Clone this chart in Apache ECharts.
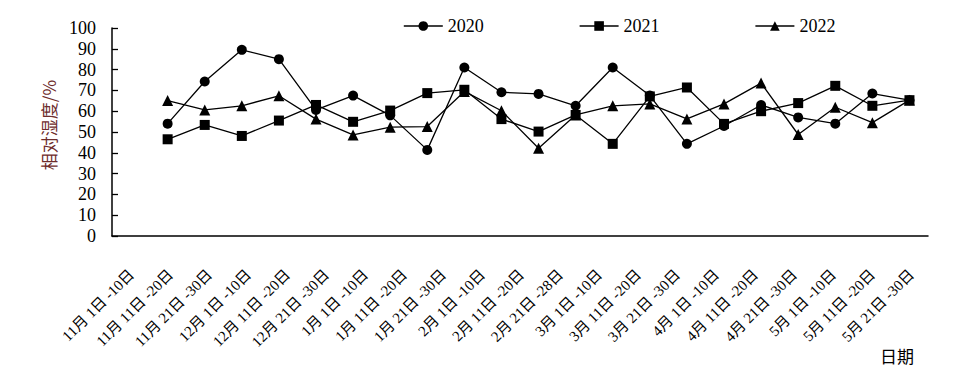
<!DOCTYPE html>
<html>
<head>
<meta charset="utf-8">
<style>
  html, body { margin: 0; padding: 0; background: #fff; }
  #chart { width: 970px; height: 385px; }
</style>
<script src="https://cdn.jsdelivr.net/npm/echarts@6/dist/echarts.min.js"></script>
</head>
<body>
<div id="chart"></div>
<script>
// ---- data ----
const categories = [
  '11月 1日 -10日', '11月 11日 -20日', '11月 21日 -30日',
  '12月 1日 -10日', '12月 11日 -20日', '12月 21日 -30日',
  '1月 1日 -10日', '1月 11日 -20日', '1月 21日 -30日',
  '2月 1日 -10日', '2月 11日 -20日', '2月 21日 -28日',
  '3月 1日 -10日', '3月 11日 -20日', '3月 21日 -30日',
  '4月 1日 -10日', '4月 11日 -20日', '4月 21日 -30日',
  '5月 1日 -10日', '5月 11日 -20日', '5月 21日 -30日'
];
const values2020 = [54, 74.3, 89.5, 85, 60.6, 67.5, 58, 41.4, 81, 69.1, 68.3, 62.6, 81, 67.5, 44.3, 52.9, 63, 57, 54, 68.5, 65.3];
const values2021 = [46.5, 53.4, 48.1, 55.5, 63, 54.9, 60.3, 68.7, 70.3, 56.2, 50.2, 58.2, 44.3, 67.1, 71.4, 53.9, 60, 63.9, 72.2, 62.6, 65.3];
const values2022 = [65.1, 60.6, 62.6, 67.4, 56.2, 48.6, 52.3, 52.6, 69.5, 60.2, 42.2, 58.2, 62.6, 63.5, 56.3, 63.5, 73.5, 48.8, 61.9, 54.5, 65.3];
const seriesNames = ['2020', '2021', '2022'];
const yTicks = { min: 0, max: 100, interval: 10 };

// plot slots: one empty leading slot, then one slot per period
const slots = [''].concat(categories);
const pad = arr => [null].concat(arr);

const SERIF = '"Liberation Serif", "Times New Roman", "Noto Sans CJK SC", serif';
const chart = echarts.init(document.getElementById('chart'), null, { renderer: 'svg' });

const mk = (name, data, symbol, size) => ({
  name, type: 'line', data: pad(data), xAxisIndex: 0, yAxisIndex: 0,
  symbol, symbolSize: size, showSymbol: true, connectNulls: false,
  lineStyle: { color: '#000', width: 1.3 },
  itemStyle: { color: '#000', borderWidth: 0 },
  animation: false
});

chart.setOption({
  animation: false,
  backgroundColor: '#fff',
  legend: {
    data: seriesNames,
    left: 398, top: 12,
    itemWidth: 39, itemHeight: 12, itemGap: 95,
    lineStyle: { width: 1.6 },
    textStyle: { fontFamily: SERIF, fontSize: 18, color: '#000' }
  },
  grid: [
    { left: 112, right: 42, top: 28, bottom: 149 },
    { left: 112, width: 819, top: 28, bottom: 149 }
  ],
  xAxis: [
    {
      type: 'category', gridIndex: 0, data: slots, boundaryGap: true,
      axisLine: { lineStyle: { color: '#000', width: 1.5 } },
      axisTick: { inside: true, length: 6, lineStyle: { color: '#000', width: 1.3 } },
      axisLabel: { show: false },
      splitLine: { show: false }
    },
    {
      type: 'category', gridIndex: 1, data: categories, boundaryGap: true,
      axisLine: { show: false }, axisTick: { show: false },
      axisLabel: {
        interval: 0, rotate: 45, margin: 36,
        fontFamily: SERIF, fontSize: 15, color: '#000'
      }
    }
  ],
  yAxis: [
    {
      type: 'value', gridIndex: 0, min: yTicks.min, max: yTicks.max, interval: yTicks.interval,
      axisLine: { show: true, lineStyle: { color: '#000', width: 1.5 } },
      axisTick: { show: true, inside: true, length: 6, lineStyle: { color: '#000', width: 1.3 } },
      axisLabel: { margin: 16, fontFamily: SERIF, fontSize: 18, color: '#000' },
      splitLine: { show: false }
    },
    { type: 'value', gridIndex: 1, show: false, min: 0, max: 100 }
  ],
  graphic: [
    {
      type: 'text', x: 48, y: 125, rotation: Math.PI / 2,
      style: {
        text: '相对湿度/%', fill: '#6e2c2c',
        font: '17px "Noto Sans CJK SC", sans-serif',
        textAlign: 'center', textVerticalAlign: 'middle'
      }
    },
    {
      type: 'text', x: 897, y: 355,
      style: {
        text: '日期', fill: '#000',
        font: '17px "Noto Sans CJK SC", sans-serif',
        textAlign: 'center', textVerticalAlign: 'middle'
      }
    }
  ],
  series: [
    mk(seriesNames[0], values2020, 'circle', 10),
    mk(seriesNames[1], values2021, 'rect', 10),
    mk(seriesNames[2], values2022, 'triangle', 11)
  ]
});
</script>
</body>
</html>
